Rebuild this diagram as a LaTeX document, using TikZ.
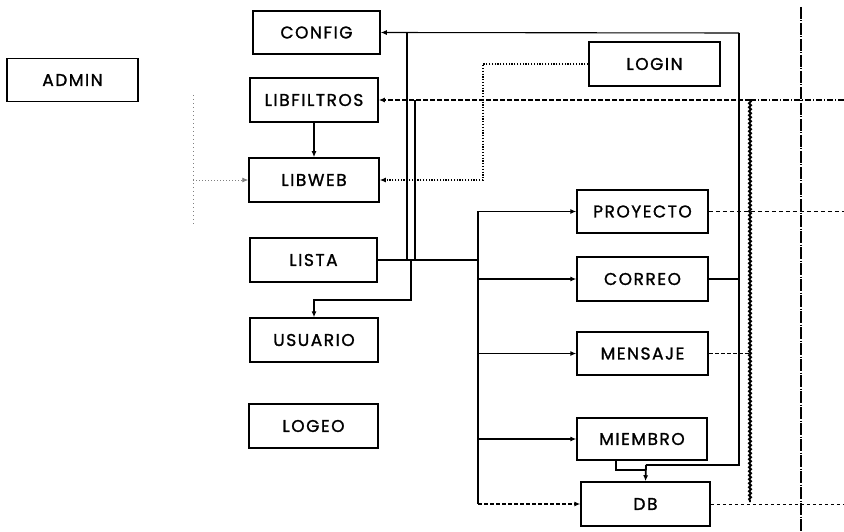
\documentclass[tikz,border=0pt]{standalone}
\usepackage{fontspec}
\setmainfont{Poppins}
\newfontfamily\boxfont{Poppins}[LetterSpace=9,FakeBold=1.3]
\usetikzlibrary{arrows.meta,decorations.pathmorphing}
\begin{document}
\begin{tikzpicture}[x=1pt,y=-1pt,
  box/.style={draw,line width=1.5pt,rectangle,inner sep=0pt,minimum width=129pt,minimum height=43pt,
    font=\boxfont\fontsize{17}{19}\selectfont},
  conn/.style={line width=1.1pt},
  tip/.style={-{Latex[length=6pt,width=5pt]}},
  dots/.style={line width=1.8pt,dash pattern=on 1.2pt off 1.6pt},
  wavy/.style={line width=1.8pt,decorate,decoration={snake,amplitude=1pt,segment length=4pt}},
  faint/.style={line width=0.8pt,dash pattern=on 3pt off 3pt,gray}]
\useasboundingbox (0,0) rectangle (844,532);
% boxes
\node[box,minimum width=131pt] (admin) at (72.5,80) {ADMIN};
\node[box,minimum width=127pt] (config) at (316.5,32.5) {CONFIG};
\node[box,minimum width=128pt,minimum height=44pt] (libf) at (314,100) {LIBFILTROS};
\node[box,minimum width=130pt,minimum height=44pt] (libweb) at (314,180) {LIBWEB};
\node[box,minimum width=127pt,minimum height=44pt] (lista) at (313.5,260) {LISTA};
\node[box,minimum width=128pt,minimum height=44pt] (usuario) at (314,340) {USUARIO};
\node[box,minimum height=44pt] (logeo) at (313.5,426) {LOGEO};
\node[box,minimum width=131pt,minimum height=44pt] (login) at (654.5,64) {LOGIN};
\node[box,minimum width=131pt] (proy) at (642.5,211.5) {PROYECTO};
\node[box,minimum width=131pt,minimum height=44pt] (correo) at (642.5,279) {CORREO};
\node[box,minimum width=131pt] (mensaje) at (642.5,353.5) {MENSAJE};
\node[box,minimum width=130pt,minimum height=42pt] (miembro) at (642,439) {MIEMBRO};
\node[box,minimum height=44pt] (db) at (645.5,504) {DB};
% junction coordinates
\coordinate (cfgR) at (739,33);
\coordinate (cfgD) at (739,465);
\coordinate (dbJ) at (646,465);
\coordinate (corR) at (739,279);
\coordinate (busT) at (478,211.5);
\coordinate (busL) at (478,260);
\coordinate (busB) at (478,504);
\coordinate (vA) at (407,33);
\coordinate (vAb) at (407,260);
\coordinate (vB) at (415,100);
\coordinate (vBb) at (415,260);
\coordinate (uJ) at (411,260);
\coordinate (uJb) at (411,300);
\coordinate (uT) at (314,300);
\coordinate (wTop) at (750,100);
\coordinate (wBot) at (750,502);
\coordinate (rEdge1) at (844,100);
\coordinate (rEdge2) at (844,211.5);
\coordinate (rEdge3) at (844,504);
\coordinate (vdT) at (801,7);
\coordinate (vdB) at (801,532);
\coordinate (loginJ) at (483,64);
\coordinate (loginJb) at (483,180);
\coordinate (miemJ) at (616,470);
\coordinate (miemJb) at (646,470);
\coordinate (lwT) at (193,95);
\coordinate (lwB) at (193,225);
\coordinate (lwJ) at (193,180);
% LISTA / CONFIG network
\draw[conn,tip] (cfgR) -- (config.east);
\draw[conn] (cfgR) -- (cfgD) -- (dbJ);
\draw[conn] (correo.east) -- (corR);
\draw[conn] (vA) -- (vAb);
\draw[conn] (vB) -- (vBb);
\draw[conn] (lista.east) -- (busL);
\draw[conn,tip] (uJ) -- (uJb) -- (uT) -- (usuario.north);
% bus
\draw[line width=1.8pt] (busT) -- (busB);
\draw[conn,tip] (busT) -- (proy.west);
\draw[conn,tip] (busT |- correo.west) -- (correo.west);
\draw[conn,tip] (busT |- mensaje.west) -- (mensaje.west);
\draw[conn,tip] (busT |- miembro.west) -- (miembro.west);
\draw[conn,tip,dash pattern=on 4pt off 2pt] (busB) -- (db.west);
% MIEMBRO -> DB
\draw[line width=2.2pt] (miembro.south -| miemJ) -- (miemJ) -- (miemJb);
\draw[line width=1.8pt,tip] (dbJ) -- (db.north);
% LIBFILTROS -> LIBWEB
\draw[line width=1.3pt,tip] (libf.south) -- (libweb.north);
% LOGIN dotted
\draw[dots,tip] (login.west) -- (loginJ) -- (loginJb) -- (libweb.east);
% wavy LIBFILTROS line
\draw[line width=1.8pt,dash pattern=on 5pt off 2pt,tip] (wTop) -- (libf.east);
\draw[wavy] (wTop) -- (wBot);
\draw[line width=1.1pt,dash pattern=on 6pt off 2pt on 1pt off 2pt] (wTop) -- (rEdge1);
\draw[line width=1.4pt,dash pattern=on 4pt off 2pt] (mensaje.east) -- (mensaje.east -| wTop);
\draw[line width=1.1pt,dash pattern=on 4pt off 3pt] (proy.east) -- (rEdge2);
\draw[faint,black] (db.east) -- (rEdge3);
\draw[line width=1.1pt,dash pattern=on 12pt off 1.5pt on 1pt off 1.5pt] (vdT) -- (vdB);
% LIBWEB left dotted
\draw[gray,line width=0.8pt,dash pattern=on 1pt off 3pt] (lwT) -- (lwB);
\draw[gray,line width=0.8pt,dash pattern=on 1pt off 2pt,tip] (lwJ) -- (libweb.west);
\end{tikzpicture}
\end{document}
